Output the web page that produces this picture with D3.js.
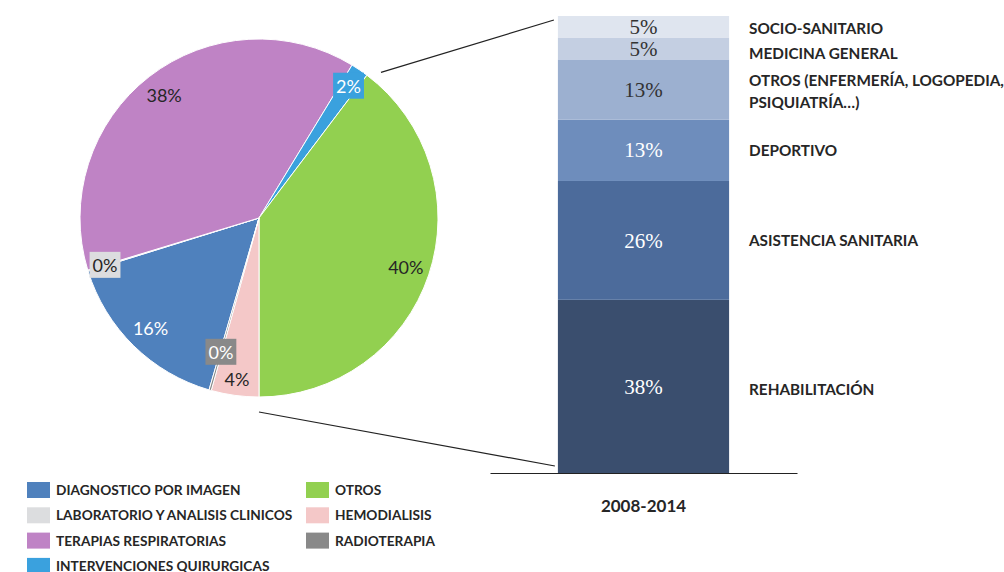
<!DOCTYPE html>
<html>
<head>
<meta charset="utf-8">
<script src="https://cdn.jsdelivr.net/npm/d3@7"></script>
<style>
  body { margin: 0; background: #fff; }
  svg { display: block; }
</style>
</head>
<body>
<svg id="chart" width="1004" height="572"></svg>
<script>
// pie data
const pieCategories = ["DIAGNOSTICO POR IMAGEN", "LABORATORIO Y ANALISIS CLINICOS", "TERAPIAS RESPIRATORIAS",
  "INTERVENCIONES QUIRURGICAS", "OTROS", "HEMODIALISIS", "RADIOTERAPIA"];
const pieValues = [15.7, 0.1, 38.4, 1.6, 39.7, 4.3, 0.2];

// stacked bar data (bottom to top)
const barCategory = ["2008-2014"];
const barSegments = ["REHABILITACIÓN", "ASISTENCIA SANITARIA", "DEPORTIVO",
  "OTROS (ENFERMERÍA, LOGOPEDIA,\nPSIQUIATRÍA…)", "MEDICINA GENERAL", "SOCIO-SANITARIO"];
const barValues = [37.9, 26.0, 13.4, 13.2, 4.8, 4.7];

const pieColors = ["#4f81bd", "#dcdddf", "#bf83c5", "#3aa1de", "#92d050", "#f4c8c8", "#898989"];
const barColors = ["#3a4e6e", "#4c6b9b", "#6e8dbc", "#9cb0d0", "#c4cfe2", "#dfe5ef"];
const dark = "#262626";
const sans = "Lato, 'Noto Sans', sans-serif";

const svg = d3.select("#chart");

// ---------- pie ----------
const cx = 259, cy = 218, R = 179;
const start = 196.2 * Math.PI / 180;

const pie = d3.pie().sort(null).value(d => d.value)
  .startAngle(start).endAngle(start + 2 * Math.PI);
const arcs = pie(pieCategories.map((c, i) => ({ name: c, value: pieValues[i], color: pieColors[i] })));

const arc = d3.arc().innerRadius(0).outerRadius(R);

const pg = svg.append("g").attr("transform", `translate(${cx},${cy})`);

pg.selectAll("path")
  .data(arcs)
  .join("path")
  .attr("d", arc)
  .attr("fill", d => d.data.color)
  .attr("stroke", "#fff")
  .attr("stroke-width", 1);

// label radius factors (Excel best fit look)
const labelK = { "RADIOTERAPIA": 0.78, "HEMODIALISIS": 0.91, "INTERVENCIONES QUIRURGICAS": 0.89, "LABORATORIO Y ANALISIS CLINICOS": 0.9 };
const whiteText = ["DIAGNOSTICO POR IMAGEN", "INTERVENCIONES QUIRURGICAS", "RADIOTERAPIA"];

arcs.forEach(d => {
  const k = labelK[d.data.name] || 0.865;
  const a = (d.startAngle + d.endAngle) / 2;
  const x = Math.sin(a) * R * k, y = -Math.cos(a) * R * k;
  const g = pg.append("g").attr("transform", `translate(${x},${y})`);
  const t = g.append("text")
    .attr("text-anchor", "middle")
    .attr("dy", "0.36em")
    .style("font-family", sans)
    .style("font-size", "18px")
    .attr("fill", whiteText.includes(d.data.name) ? "#fff" : dark)
    .text(Math.round(d.data.value) + "%");
  if (d.data.value < 3) {
    const b = t.node().getBBox();
    g.insert("rect", "text")
      .attr("x", b.x - 3).attr("y", b.y - 2)
      .attr("width", b.width + 6).attr("height", b.height + 4)
      .attr("fill", d.data.color);
  }
});

// ---------- stacked bar ----------
const x = d3.scaleBand().domain(barCategory).range([490, 797]).padding(0.284);
const y = d3.scaleLinear().domain([0, 100]).range([473, 16]);

const stacked = [];
let acc = 0;
barValues.forEach((v, i) => {
  stacked.push({ name: barSegments[i], value: v, y0: acc, y1: acc + v, color: barColors[i] });
  acc += v;
});

const bg = svg.append("g");
bg.selectAll("rect")
  .data(stacked)
  .join("rect")
  .attr("x", x(barCategory[0]))
  .attr("width", x.bandwidth())
  .attr("y", d => y(d.y1))
  .attr("height", d => y(d.y0) - y(d.y1))
  .attr("fill", d => d.color);

bg.selectAll(".val")
  .data(stacked)
  .join("text")
  .attr("class", "val")
  .attr("x", x(barCategory[0]) + x.bandwidth() / 2)
  .attr("y", d => (y(d.y0) + y(d.y1)) / 2)
  .attr("dy", "0.34em")
  .attr("text-anchor", "middle")
  .style("font-family", "'Liberation Serif', 'DejaVu Serif', serif")
  .style("font-size", "21px")
  .attr("fill", (d, i) => i < 3 ? "#fff" : "#333")
  .text(d => Math.round(d.value) + "%");

// segment names on the right
const nameShift = [2.6, 0.6, 0.6, 2.4, 5.5, 1.3];
const ng = svg.append("g")
  .style("font-family", sans)
  .style("font-size", "15.3px")
  .style("font-weight", "bold")
  .attr("fill", dark);
stacked.forEach((d, i) => {
  const lines = d.name.split("\n");
  const mid = (y(d.y0) + y(d.y1)) / 2 + nameShift[i];
  const t = ng.append("text")
    .attr("x", 749)
    .attr("y", mid - (lines.length - 1) * 11);
  lines.forEach((l, j) => {
    t.append("tspan").attr("x", 749).attr("dy", j === 0 ? "0.36em" : "22px").text(l);
  });
});

// x axis
svg.append("g")
  .attr("transform", `translate(0,${y(0)})`)
  .call(d3.axisBottom(x).tickSize(0).tickPadding(27).tickSizeOuter(0))
  .call(g => g.select(".domain").attr("stroke", "#222").attr("stroke-width", 1.2))
  .call(g => g.selectAll("text")
    .style("font-family", sans)
    .style("font-size", "17px")
    .style("font-weight", "bold")
    .attr("fill", dark));

// connector lines between pie and bar
const interv = arcs[3];
const topA = interv.endAngle + 0.05;
svg.append("line")
  .attr("x1", cx + Math.sin(topA) * (R + 11)).attr("y1", cy - Math.cos(topA) * (R + 11))
  .attr("x2", x(barCategory[0]) - 4).attr("y2", y(100) + 4)
  .attr("stroke", "#222").attr("stroke-width", 1.2);
svg.append("line")
  .attr("x1", cx).attr("y1", cy + R + 15)
  .attr("x2", x(barCategory[0]) - 3).attr("y2", y(0) - 7)
  .attr("stroke", "#222").attr("stroke-width", 1.2);

// ---------- legend ----------
const lg = svg.append("g")
  .style("font-family", sans)
  .style("font-size", "13.7px")
  .style("font-weight", "bold");
pieCategories.forEach((c, i) => {
  const col = i < 4 ? 0 : 1;
  const row = i < 4 ? i : i - 4;
  const lx = col === 0 ? 27 : 306;
  const ly = 490 + row * 25.3;
  lg.append("rect").attr("x", lx).attr("y", ly - 8).attr("width", 23).attr("height", 16).attr("fill", pieColors[i]);
  lg.append("text").attr("x", lx + 29).attr("y", ly).attr("dy", "0.36em").attr("fill", dark).text(c);
});
</script>
</body>
</html>
